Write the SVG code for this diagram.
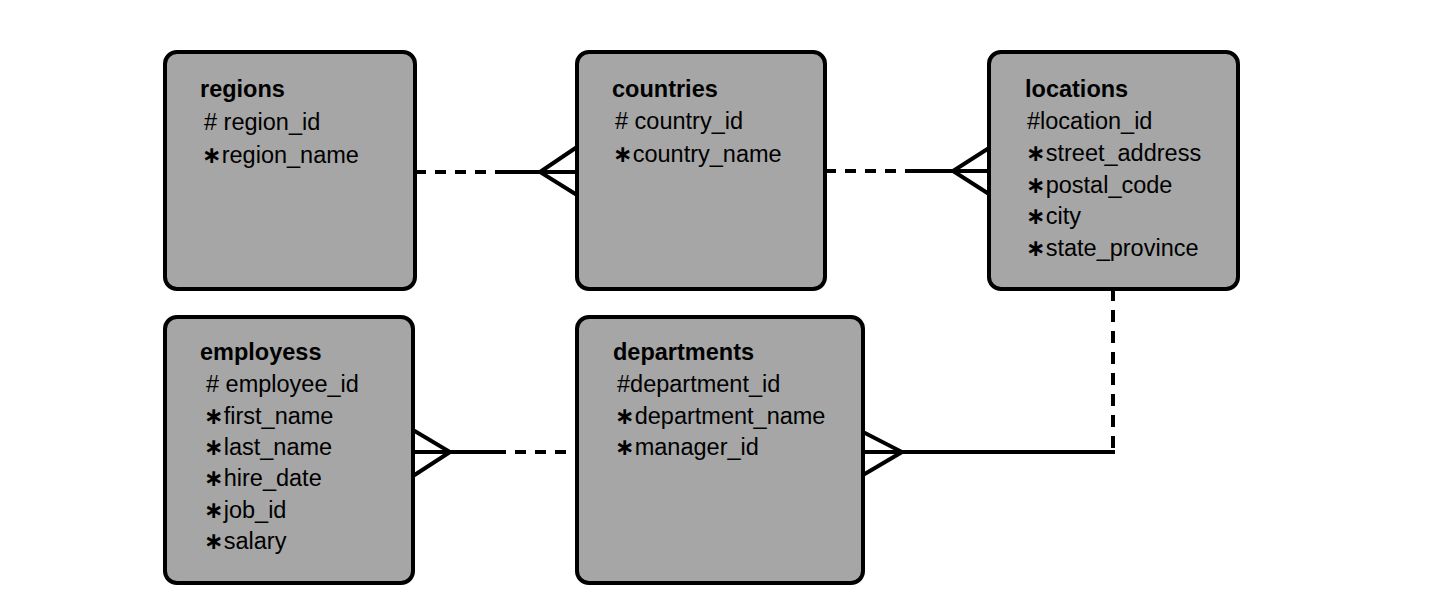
<svg xmlns="http://www.w3.org/2000/svg" width="1454" height="608" viewBox="0 0 1454 608">
<style>
.box{fill:#a6a6a6;stroke:#000;stroke-width:4}
.t{font-family:"Liberation Sans",Arial,sans-serif;font-size:23.5px;fill:#000}
.h{font-weight:bold}
.s{font-family:"DejaVu Sans","Liberation Sans",sans-serif;font-weight:bold}
.ln{fill:none;stroke:#000;stroke-width:4}
.d{stroke-dasharray:11 9}
</style>
<rect width="1454" height="608" fill="#fff"/>
<g id="regions">
<rect class="box" x="165" y="52" width="250" height="237" rx="12"/>
<text class="t h" x="200" y="97">regions</text>
<text class="t" x="204" y="130">#<tspan> region_id</tspan></text>
<text class="t" x="202" y="163"><tspan class="s">∗</tspan>region_name</text>
</g>
<g id="countries">
<rect class="box" x="577" y="52" width="248" height="237" rx="12"/>
<text class="t h" x="612" y="97">countries</text>
<text class="t" x="615" y="129">#<tspan> country_id</tspan></text>
<text class="t" x="613" y="162"><tspan class="s">∗</tspan>country_name</text>
</g>
<g id="locations">
<rect class="box" x="989" y="52" width="249" height="237" rx="12"/>
<text class="t h" x="1025" y="97">locations</text>
<text class="t" x="1027" y="129">#location_id</text>
<text class="t" x="1026" y="161"><tspan class="s">∗</tspan>street_address</text>
<text class="t" x="1026" y="193"><tspan class="s">∗</tspan>postal_code</text>
<text class="t" x="1026" y="224"><tspan class="s">∗</tspan>city</text>
<text class="t" x="1026" y="256"><tspan class="s">∗</tspan>state_province</text>
</g>
<g id="employess">
<rect class="box" x="165" y="317" width="248" height="266" rx="12"/>
<text class="t h" x="200" y="360">employess</text>
<text class="t" x="206" y="392"># employee_id</text>
<text class="t" x="204" y="424"><tspan class="s">∗</tspan>first_name</text>
<text class="t" x="204" y="455"><tspan class="s">∗</tspan>last_name</text>
<text class="t" x="204" y="486"><tspan class="s">∗</tspan>hire_date</text>
<text class="t" x="204" y="518"><tspan class="s">∗</tspan>job_id</text>
<text class="t" x="204" y="549"><tspan class="s">∗</tspan>salary</text>
</g>
<g id="departments">
<rect class="box" x="577" y="317" width="286" height="266" rx="12"/>
<text class="t h" x="613" y="360">departments</text>
<text class="t" x="617" y="392">#department_id</text>
<text class="t" x="615" y="424"><tspan class="s">∗</tspan>department_name</text>
<text class="t" x="615" y="455"><tspan class="s">∗</tspan>manager_id</text>
</g>
<g id="connectors">
<path class="ln d" d="M415,172 H500"/>
<path class="ln" d="M500,172 H577 M577,147 L540,172 L577,195"/>
<path class="ln d" d="M825,171 H910"/>
<path class="ln" d="M910,171 H989 M989,148 L953,171 L989,194"/>
<path class="ln" d="M413,452 H495 M413,430 L450,452 L413,476"/>
<path class="ln d" d="M495,452 H577"/>
<path class="ln" d="M1113,289 V452" stroke-dasharray="12 9"/>
<path class="ln" d="M1115,452 H863 M863,432 L902,452 L863,475"/>
</g>
</svg>
